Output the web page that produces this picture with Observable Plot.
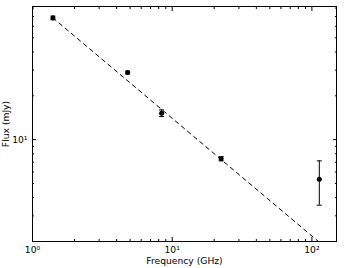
<!DOCTYPE html>
<html><head><meta charset="utf-8">
<script src="https://cdn.jsdelivr.net/npm/d3@7"></script>
<script src="https://cdn.jsdelivr.net/npm/@observablehq/plot@0.6"></script>
<style>body{margin:0;background:#fff} svg{font-family:"DejaVu Sans";}</style>
</head><body><div id="chart"></div>
<script>
const frequency = [1.4, 4.8, 8.4, 22.4, 113];
const flux = [68.5, 28.9, 15.2, 7.4, 5.35];
const fluxError = [2, 0.6, 0.8, 0.25, 1.8];
const fitFrequency = [1.4, 115];
const fitFlux = [68.5, 1.95];
const xMajorTicks = [1, 10, 100];
const xMinorTicks = [2, 3, 4, 5, 6, 7, 8, 9, 20, 30, 40, 50, 60, 70, 80, 90];
const xTickLabels = ["10\u2070", "10\u00b9", "10\u00b2"];
const yMajorTicks = [10];
const yMinorTicks = [2, 3, 4, 5, 6, 7, 8, 9, 20, 30, 40, 50, 60, 70, 80];
const yTickLabels = ["10\u00b9"];

const points = frequency.map((f, i) => ({f, s: flux[i], lo: flux[i] - fluxError[i], hi: flux[i] + fluxError[i]}));
const fit = fitFrequency.map((f, i) => ({f, s: fitFlux[i]}));
const cap = {draw(ctx) { ctx.moveTo(-2.5, 0); ctx.lineTo(2.5, 0); }};
const blank = () => "";

const chart = Plot.plot({
  width: 352, height: 268,
  marginLeft: 32, marginRight: 16, marginTop: 6, marginBottom: 27,
  x: {type: "log", domain: [1, 150]},
  y: {type: "log", domain: [2, 82]},
  style: {fontFamily: "DejaVu Sans", fontSize: "9.2px", color: "black", background: "white"},
  marks: [
    Plot.line(fit, {x: "f", y: "s", stroke: "black", strokeWidth: 1, strokeDasharray: "4,4", clip: true}),
    Plot.ruleX(points, {x: "f", y1: "lo", y2: "hi", stroke: "black"}),
    Plot.dot(points, {x: "f", y: "lo", symbol: cap, stroke: "black", strokeWidth: 1}),
    Plot.dot(points, {x: "f", y: "hi", symbol: cap, stroke: "black", strokeWidth: 1}),
    Plot.dot(points, {x: "f", y: "s", r: 2.5, fill: "black"}),
    Plot.frame({stroke: "black"}),
    // inward major & minor ticks, all four sides
    Plot.axisX(xMajorTicks, {anchor: "bottom", tickSize: -4, tickFormat: blank, label: null}),
    Plot.axisX(xMinorTicks, {anchor: "bottom", tickSize: -2, tickFormat: blank, label: null}),
    Plot.axisX(xMajorTicks, {anchor: "top", tickSize: -4, tickFormat: blank, label: null}),
    Plot.axisX(xMinorTicks, {anchor: "top", tickSize: -2, tickFormat: blank, label: null}),
    Plot.axisY(yMajorTicks, {anchor: "left", tickSize: -4, tickFormat: blank, label: null}),
    Plot.axisY(yMinorTicks, {anchor: "left", tickSize: -2, tickFormat: blank, label: null}),
    Plot.axisY(yMajorTicks, {anchor: "right", tickSize: -4, tickFormat: blank, label: null}),
    Plot.axisY(yMinorTicks, {anchor: "right", tickSize: -2, tickFormat: blank, label: null}),
    // labels
    Plot.axisX(xMajorTicks, {anchor: "bottom", tickSize: 0, tickPadding: 5,
      tickFormat: d => xTickLabels[xMajorTicks.indexOf(d)],
      label: "Frequency (GHz)", labelAnchor: "center", labelArrow: "none", labelOffset: 22}),
    Plot.axisY(yMajorTicks, {anchor: "left", tickSize: 0, tickPadding: 5,
      tickFormat: d => yTickLabels[yMajorTicks.indexOf(d)],
      label: "Flux (mJy)", labelAnchor: "center", labelArrow: "none", labelOffset: 30})
  ]
});
document.getElementById("chart").append(chart);
</script>
</body></html>
